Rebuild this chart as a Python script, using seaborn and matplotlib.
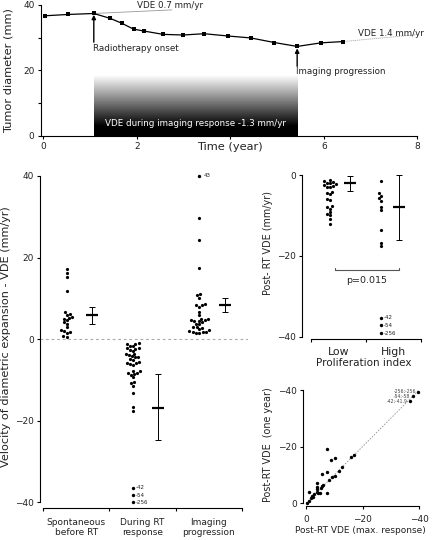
import numpy as np
import pandas as pd
import matplotlib
matplotlib.use("Agg")
import matplotlib.pyplot as plt
import seaborn as sns

# ---------------- data ----------------
# Panel A: tumour diameter over time
time_years = [0.04, 0.53, 1.08, 1.43, 1.68, 1.93, 2.16, 2.56, 2.99, 3.44, 3.95, 4.44, 4.94, 5.43, 5.94, 6.42]
diameter_mm = [36.7, 37.1, 37.4, 35.9, 34.4, 32.6, 32.0, 31.0, 30.8, 31.2, 30.5, 29.9, 28.5, 27.3, 28.4, 28.8]
vde_pre_t = [1.08, 2.75]
vde_pre_y = [37.4, 38.5]
vde_post_t = [6.42, 8.06]
vde_post_y = [28.8, 31.0]
rt_onset_t = 1.08
progression_t = 5.43
response_band_top = 18.5

# Panel B: VDE per phase
phase_labels = ["Spontaneous\nbefore RT", "During RT\nresponse", "Imaging\nprogression"]
vde_spont = [17.2, 16.2, 15.3, 11.7, 6.7, 6.2, 6.0, 5.5, 5.2, 5.0, 4.6, 4.2, 3.8, 3.0,
             2.2, 2.0, 1.8, 1.5, 0.8, 0.6]
vde_during = [-1.0, -1.1, -1.2, -1.6, -1.7, -2.1, -2.2, -2.3, -2.7, -2.8, -3.6, -3.7, -3.8,
              -4.2, -4.3, -4.4, -4.8, -5.0, -5.7, -5.8, -5.9, -6.2, -6.3, -7.7, -7.9, -8.2,
              -8.3, -8.6, -8.7, -9.3, -10.6, -10.8, -11.4, -13.2, -16.7, -17.5]
vde_prog = [29.6, 24.2, 17.4, 11.0, 10.8, 10.2, 8.5, 8.4, 8.3, 7.9, 6.6, 5.8, 5.0, 4.9, 4.8,
            4.6, 4.5, 4.4, 4.2, 3.8, 3.7, 3.0, 2.9, 2.8, 2.4, 2.2, 1.9, 1.8, 1.8, 1.7, 1.6, 1.6]
phase_mean = [5.9, -16.8, 8.4]
phase_ci_low = [3.7, -24.8, 6.6]
phase_ci_high = [7.8, -8.6, 10.0]
during_outlier_labels = ["-42", "-54", "-256"]
during_outlier_shown = [-36.4, -38.3, -40.0]
prog_outlier_labels = ["43"]
prog_outlier_shown = [40.0]

# Panel C: post-RT VDE by proliferation index
prolif_labels = ["Low", "High"]
vde_low = [-1.2, -1.4, -1.7, -1.9, -2.0, -2.3, -2.5, -2.6, -2.9, -3.0, -4.2, -4.5, -4.8,
           -6.0, -6.2, -7.7, -8.0, -8.3, -9.1, -9.6, -10.0, -10.9, -12.0]
vde_high = [-1.5, -4.5, -5.2, -5.8, -6.4, -7.9, -8.7, -13.5, -16.8, -17.6]
prolif_mean = [-1.9, -7.9]
prolif_ci_low = [-3.9, -16.0]
prolif_ci_high = [-0.25, 0.0]
high_outlier_labels = ["-42", "-54", "-256"]
high_outlier_shown = [-35.3, -37.2, -39.1]
p_text = "p=0.015"
p_bracket_y = -23.5

# Panel D: post-RT VDE max response vs one year
vde_max = [-0.5, -1.2, -1.8, -2.2, -2.8, -1.2, -3.8, -4.4, -4.9, -3.8, -5.4, -5.8, -4.0, -4.0,
           -7.5, -8.2, -9.1, -10.2, -5.5, -7.3, -11.7, -12.8, -8.7, -10.2, -16.1, -17.0, -7.5,
           -2.6, -6.0]
vde_year = [-0.2, -0.9, -1.8, -2.6, -3.3, -4.0, -4.1, -3.5, -3.7, -5.2, -5.3, -6.1, -5.9, -7.3,
            -3.5, -8.2, -9.4, -9.6, -10.4, -11.0, -11.5, -12.9, -15.3, -15.9, -16.2, -17.0,
            -19.2, -2.4, -6.3]
d_outlier_x = [-39.7, -37.7, -36.7]
d_outlier_y = [-39.4, -37.9, -36.1]
d_outlier_labels = ["-256;-256", "-54;-58", "-42;-41.9"]

# ---------------- style ----------------
sns.set_theme(style="ticks")
plt.rcParams["font.family"] = ["DejaVu Sans"]
plt.rcParams.update({
    "axes.linewidth": 0.8, "axes.edgecolor": "black",
    "xtick.major.width": 0.8, "ytick.major.width": 0.8,
    "xtick.minor.width": 0.8, "ytick.minor.width": 0.8,
    "xtick.major.size": 2.5, "ytick.major.size": 2.5,
    "xtick.minor.size": 2.5, "ytick.minor.size": 2.5,
    "xtick.labelsize": 6.5, "ytick.labelsize": 6.5, "axes.labelsize": 7.8,
    "xtick.major.pad": 2, "ytick.major.pad": 2,
    "text.color": "#222222", "axes.labelcolor": "#222222",
    "xtick.color": "black", "ytick.color": "black",
    "xtick.labelcolor": "#222222", "ytick.labelcolor": "#222222",
})

W, H = 432, 540
fig = plt.figure(figsize=(W / 100, H / 100), dpi=100)


def px_axes(l, t, r, b):
    return fig.add_axes([l / W, 1 - b / H, (r - l) / W, (b - t) / H])


dot_size = 2.3

# ---------------- Panel A ----------------
axA = px_axes(40.7, 5, 417.3, 135.5)
grad_y = np.linspace(0, response_band_top, 200)
grad = np.clip((grad_y - 3.0) / 15.5, 0, 1)[:, None]
axA.imshow(grad, extent=[rt_onset_t, progression_t, 0, response_band_top], origin="lower",
           aspect="auto", cmap="gray", vmin=0, vmax=1, zorder=0)
sns.lineplot(x=time_years, y=diameter_mm, ax=axA, color="black", lw=0.9, marker="s",
             markersize=2.3, markeredgewidth=0, zorder=3)
axA.plot(vde_pre_t, vde_pre_y, color="#999999", lw=0.6, zorder=2)
axA.plot(vde_post_t, vde_post_y, color="#aaaaaa", lw=0.6, ls=(0, (1.5, 0.8)), zorder=2)
axA.annotate("", xy=(rt_onset_t, 37.0), xytext=(rt_onset_t, 28.6),
             arrowprops=dict(arrowstyle="-|>", color="black", lw=1.0, mutation_scale=6,
                             shrinkA=0, shrinkB=0))
axA.annotate("", xy=(progression_t, 26.7), xytext=(progression_t, 21.2),
             arrowprops=dict(arrowstyle="-|>", color="black", lw=1.0, mutation_scale=6,
                             shrinkA=0, shrinkB=0))
axA.text(1.06, 26.7, "Radiotherapy onset", fontsize=6.3, va="center", ha="left")
axA.text(5.41, 19.5, "Imaging progression", fontsize=6.3, va="center", ha="left")
axA.text(2.0, 39.7, "VDE 0.7 mm/yr", fontsize=6.3, va="center", ha="left")
axA.text(6.74, 31.2, "VDE 1.4 mm/yr", fontsize=6.3, va="center", ha="left")
axA.text((rt_onset_t + progression_t) / 2, 3.6, "VDE during imaging response -1.3 mm/yr",
         fontsize=6.3, va="center", ha="center", color="white")
axA.set_xlim(-0.056, 8.0)
axA.set_ylim(0, 40)
axA.set_xticks([0, 2, 4, 6, 8])
axA.set_xticklabels(["0", "2", "", "6", "8"])
axA.set_yticks([0, 20, 40])
axA.set_yticks([10, 30], minor=True)
axA.set_xlabel("Time (year)", fontsize=8.2)
axA.xaxis.set_label_coords(0.503, -0.05)
axA.set_ylabel("Tumor diameter (mm)", fontsize=8.2)
axA.yaxis.set_label_coords(-0.072, 0.5)
sns.despine(ax=axA)

# ---------------- Panel B ----------------
axB = px_axes(40, 171.9, 248, 506.4)
dot_off_B = -0.145
err_off_B = 0.24
dfB = pd.DataFrame({
    "pos": [0 + dot_off_B] * len(vde_spont) + [1 + dot_off_B] * len(vde_during)
           + [2 + dot_off_B] * len(vde_prog),
    "vde": vde_spont + vde_during + vde_prog,
})
axB.axhline(0, color="#aaaaaa", lw=0.8, ls=(0, (2.5, 2.5)), zorder=0)
sns.swarmplot(data=dfB, x="pos", y="vde", native_scale=True, orient="x", color="black",
              size=dot_size, linewidth=0, ax=axB, warn_thresh=1)
sns.scatterplot(x=[1 + dot_off_B] * len(during_outlier_shown), y=during_outlier_shown,
                ax=axB, color="black", s=6, linewidth=0, clip_on=False)
sns.scatterplot(x=[2 + dot_off_B] * len(prog_outlier_shown), y=prog_outlier_shown,
                ax=axB, color="black", s=6, linewidth=0, clip_on=False)
for lab, yv in zip(during_outlier_labels, during_outlier_shown):
    axB.text(1 + dot_off_B + 0.04, yv, lab, fontsize=4, va="center", ha="left")
for lab, yv in zip(prog_outlier_labels, prog_outlier_shown):
    axB.text(2 + dot_off_B + 0.06, yv, lab, fontsize=4, va="center", ha="left")
mB = np.array(phase_mean)
xB = np.arange(3) + err_off_B
axB.errorbar(xB, mB, yerr=[mB - np.array(phase_ci_low), np.array(phase_ci_high) - mB],
             fmt="none", ecolor="black", elinewidth=0.7, capsize=2.5, capthick=0.7)
axB.errorbar(xB, mB, fmt="_", color="black", markersize=8, markeredgewidth=1.6)
axB.set_xlim(-0.545, 2.59)
axB.set_ylim(-41, 41)
axB.set_yticks([-40, -20, 0, 20, 40])
axB.set_xticks([-0.5, 0.5, 1.5, 2.5])
axB.set_xticklabels([])
axB.set_xticks([0, 1, 2], minor=True)
axB.set_xticklabels(phase_labels, minor=True, fontsize=8)
axB.tick_params(axis="x", which="minor", length=0, pad=7)
axB.set_xlabel("")
axB.set_ylabel("Velocity of diametric expansion - VDE (mm/yr)", fontsize=8.1)
axB.yaxis.set_label_coords(-0.14, 0.508)
sns.despine(ax=axB)
axB.spines["left"].set_bounds(-40, 40)
axB.spines["bottom"].set_bounds(-0.5, 2.5)
axB.spines["bottom"].set_position(("outward", 1))

# ---------------- Panel C ----------------
axC = px_axes(302, 173, 423.5, 338.7)
dot_off_C = [-0.154, -0.224]
err_off_C = [0.211, 0.11]
dfC = pd.DataFrame({
    "pos": [0 + dot_off_C[0]] * len(vde_low) + [1 + dot_off_C[1]] * len(vde_high),
    "vde": vde_low + vde_high,
})
sns.swarmplot(data=dfC, x="pos", y="vde", native_scale=True, orient="x", color="black",
              size=dot_size, linewidth=0, ax=axC, warn_thresh=1)
sns.scatterplot(x=[1 + dot_off_C[1]] * len(high_outlier_shown), y=high_outlier_shown,
                ax=axC, color="black", s=6, linewidth=0, clip_on=False)
for lab, yv in zip(high_outlier_labels, high_outlier_shown):
    axC.text(1 + dot_off_C[1] + 0.05, yv, lab, fontsize=4, va="center", ha="left")
mC = np.array(prolif_mean)
xC = np.arange(2) + np.array(err_off_C)
axC.errorbar(xC, mC, yerr=[mC - np.array(prolif_ci_low), np.array(prolif_ci_high) - mC],
             fmt="none", ecolor="black", elinewidth=0.7, capsize=2.5, capthick=0.7)
axC.errorbar(xC, mC, fmt="_", color="black", markersize=8, markeredgewidth=1.6)
axC.plot([-0.07, -0.07, 1.11, 1.11], [p_bracket_y + 0.6, p_bracket_y, p_bracket_y, p_bracket_y + 0.6],
         color="#555555", lw=0.8)
axC.text(0.52, p_bracket_y - 2.7, p_text, fontsize=6.8, ha="center", va="center")
axC.set_xlim(-0.664, 1.551)
axC.set_ylim(-40.5, 0.5)
axC.set_yticks([-40, -20, 0])
axC.set_xticks([-0.5, 0.5, 1.5])
axC.set_xticklabels([])
axC.set_xticks([0, 1], minor=True)
axC.set_xticklabels(prolif_labels, minor=True, fontsize=7.8)
axC.tick_params(axis="x", which="minor", length=0, pad=6)
axC.set_xlabel("Proliferation index", fontsize=7.5)
axC.xaxis.set_label_coords(0.51, -0.118)
axC.set_ylabel("Post- RT VDE (mm/yr)", fontsize=6.9)
axC.yaxis.set_label_coords(-0.235, 0.578)
sns.despine(ax=axC)
axC.spines["left"].set_bounds(-40, 0)
axC.spines["bottom"].set_bounds(-0.5, 1.5)

# ---------------- Panel D ----------------
axD = px_axes(306, 390, 419, 503.3)
axD.plot([0, -40], [0, -40], color="#999999", lw=0.7, ls=(0, (1.5, 1.5)), zorder=0)
sns.scatterplot(x=vde_max, y=vde_year, ax=axD, color="black", s=6, linewidth=0, clip_on=False)
sns.scatterplot(x=d_outlier_x, y=d_outlier_y, ax=axD, color="black", s=6, linewidth=0,
                clip_on=False)
for lab, xv, yv in zip(d_outlier_labels, d_outlier_x, d_outlier_y):
    axD.annotate(lab, (xv, yv), xytext=(-1.5, 0), textcoords="offset points", fontsize=3.3,
                 ha="right", va="center", color="#444444")
axD.set_xlim(0, -40)
axD.set_ylim(0, -40)
axD.set_xticks([0, -20, -40])
axD.set_yticks([0, -20, -40])
axD.set_xlabel("Post-RT VDE (max. response)", fontsize=6.5)
axD.xaxis.set_label_coords(0.485, -0.2)
axD.set_ylabel("Post-RT VDE  (one year)", fontsize=6.9)
axD.yaxis.set_label_coords(-0.29, 0.52)
axD.tick_params(axis="x", pad=4)
sns.despine(ax=axD, offset=2)

fig.savefig("out.png", dpi=100)
